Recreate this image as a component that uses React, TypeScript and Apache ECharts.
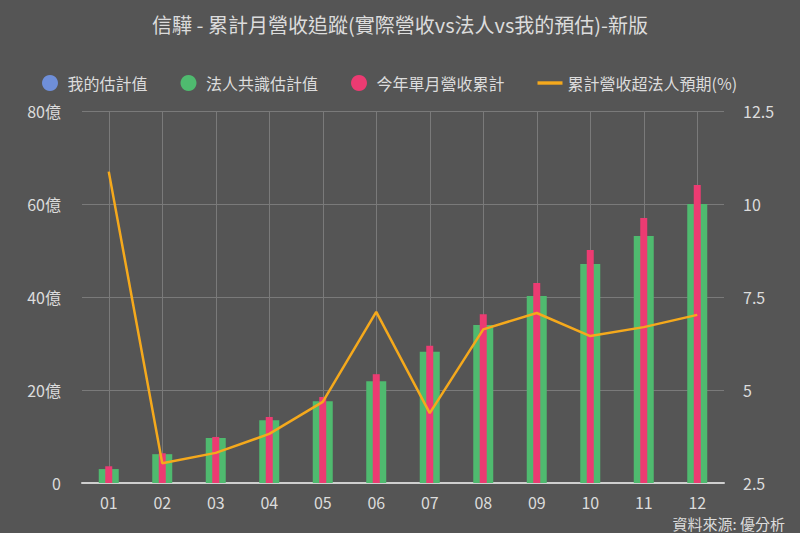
import React, { useEffect, useRef } from "react";
import * as echarts from "echarts";

const months = ["01", "02", "03", "04", "05", "06", "07", "08", "09", "10", "11", "12"];
const myEstimate: (number | null)[] = [null, null, null, null, null, null, null, null, null, null, null, null];
const consensus = [3.0, 6.2, 9.7, 13.5, 17.6, 21.9, 28.2, 34.0, 40.2, 47.1, 53.1, 60.0];
const actualCum = [3.6, 6.4, 9.9, 14.2, 18.5, 23.4, 29.5, 36.3, 43.0, 50.1, 57.0, 64.1];
const beatPct = [10.87, 3.03, 3.31, 3.82, 4.68, 7.1, 4.38, 6.63, 7.07, 6.45, 6.69, 7.02];
const leftTicks = [0, 20, 40, 60, 80];
const rightTicks = [2.5, 5, 7.5, 10, 12.5];

const FONT = "'Noto Sans CJK TC', 'Noto Sans', sans-serif";
const TXT = "#dcdcdc";

export default function App() {
  const ref = useRef<HTMLDivElement>(null);
  useEffect(() => {
    if (!ref.current) return;
    const chart = echarts.init(ref.current, undefined, { renderer: "svg" });
    const hiddenX = {
      type: "category",
      data: months,
      show: false,
      boundaryGap: true,
      gridIndex: 0,
    };
    chart.setOption({
      animation: false,
      backgroundColor: "#555555",
      textStyle: { fontFamily: FONT },
      title: {
        text: "信驊 - 累計月營收追蹤(實際營收vs法人vs我的預估)-新版",
        left: "center",
        top: 9,
        textStyle: { color: TXT, fontSize: 20, fontWeight: "normal", fontFamily: FONT },
      },
      legend: {
        left: 37,
        top: 70,
        itemWidth: 25,
        itemHeight: 16,
        itemGap: 33,
        textStyle: { color: TXT, fontSize: 16, fontFamily: FONT },
        data: [
          { name: "我的估計值", icon: "circle" },
          { name: "法人共識估計值", icon: "circle" },
          { name: "今年單月營收累計", icon: "circle" },
          { name: "累計營收超法人預期(%)", icon: "path://M0,0H22V3H0Z" },
        ],
      },
      grid: { left: 82, right: 76, top: 111, bottom: 50, containLabel: false },
      xAxis: [
        {
          type: "category",
          data: months,
          boundaryGap: true,
          axisLine: { lineStyle: { color: "#cfcfcf", width: 2 } },
          axisTick: { show: false, alignWithLabel: true },
          axisLabel: { color: TXT, fontSize: 16, margin: 11, fontFamily: FONT },
          splitLine: { show: true, alignWithLabel: true, lineStyle: { color: "#7a7a7a", width: 1 } },
        },
        hiddenX,
        { ...hiddenX },
      ],
      yAxis: [
        {
          type: "value",
          min: leftTicks[0],
          max: leftTicks[leftTicks.length - 1],
          interval: 20,
          axisLine: { show: false },
          axisTick: { show: false },
          axisLabel: {
            color: TXT,
            fontSize: 16,
            margin: 21,
            fontFamily: FONT,
            formatter: (v: number) => (v === 0 ? "0" : v + "億"),
          },
          splitLine: { lineStyle: { color: "#7a7a7a", width: 1 } },
        },
        {
          type: "value",
          min: rightTicks[0],
          max: rightTicks[rightTicks.length - 1],
          interval: 2.5,
          axisLine: { show: false },
          axisTick: { show: false },
          axisLabel: { color: TXT, fontSize: 16, margin: 19, fontFamily: FONT },
          splitLine: { show: false },
        },
      ],
      series: [
        {
          name: "我的估計值",
          type: "bar",
          xAxisIndex: 2,
          yAxisIndex: 0,
          data: myEstimate,
          barWidth: 20,
          itemStyle: { color: "#6f8fd9" },
        },
        {
          name: "法人共識估計值",
          type: "bar",
          xAxisIndex: 0,
          yAxisIndex: 0,
          data: consensus,
          barWidth: 20,
          itemStyle: { color: "#4fba6f" },
        },
        {
          name: "今年單月營收累計",
          type: "bar",
          xAxisIndex: 1,
          yAxisIndex: 0,
          data: actualCum,
          barWidth: 7,
          itemStyle: { color: "#ec3b72" },
        },
        {
          name: "累計營收超法人預期(%)",
          type: "line",
          xAxisIndex: 0,
          yAxisIndex: 1,
          data: beatPct,
          symbol: "none",
          z: 5,
          lineStyle: { color: "#f5a91c", width: 2.5 },
          itemStyle: { color: "#f5a91c" },
        },
      ],
      graphic: [
        {
          type: "text",
          right: 15,
          bottom: 2,
          style: { text: "資料來源: 優分析", fill: TXT, fontSize: 15, fontFamily: FONT },
        },
      ],
    });
    return () => chart.dispose();
  }, []);
  return <div ref={ref} style={{ width: 800, height: 533, position: "absolute", left: 0, top: 0 }} />;
}
